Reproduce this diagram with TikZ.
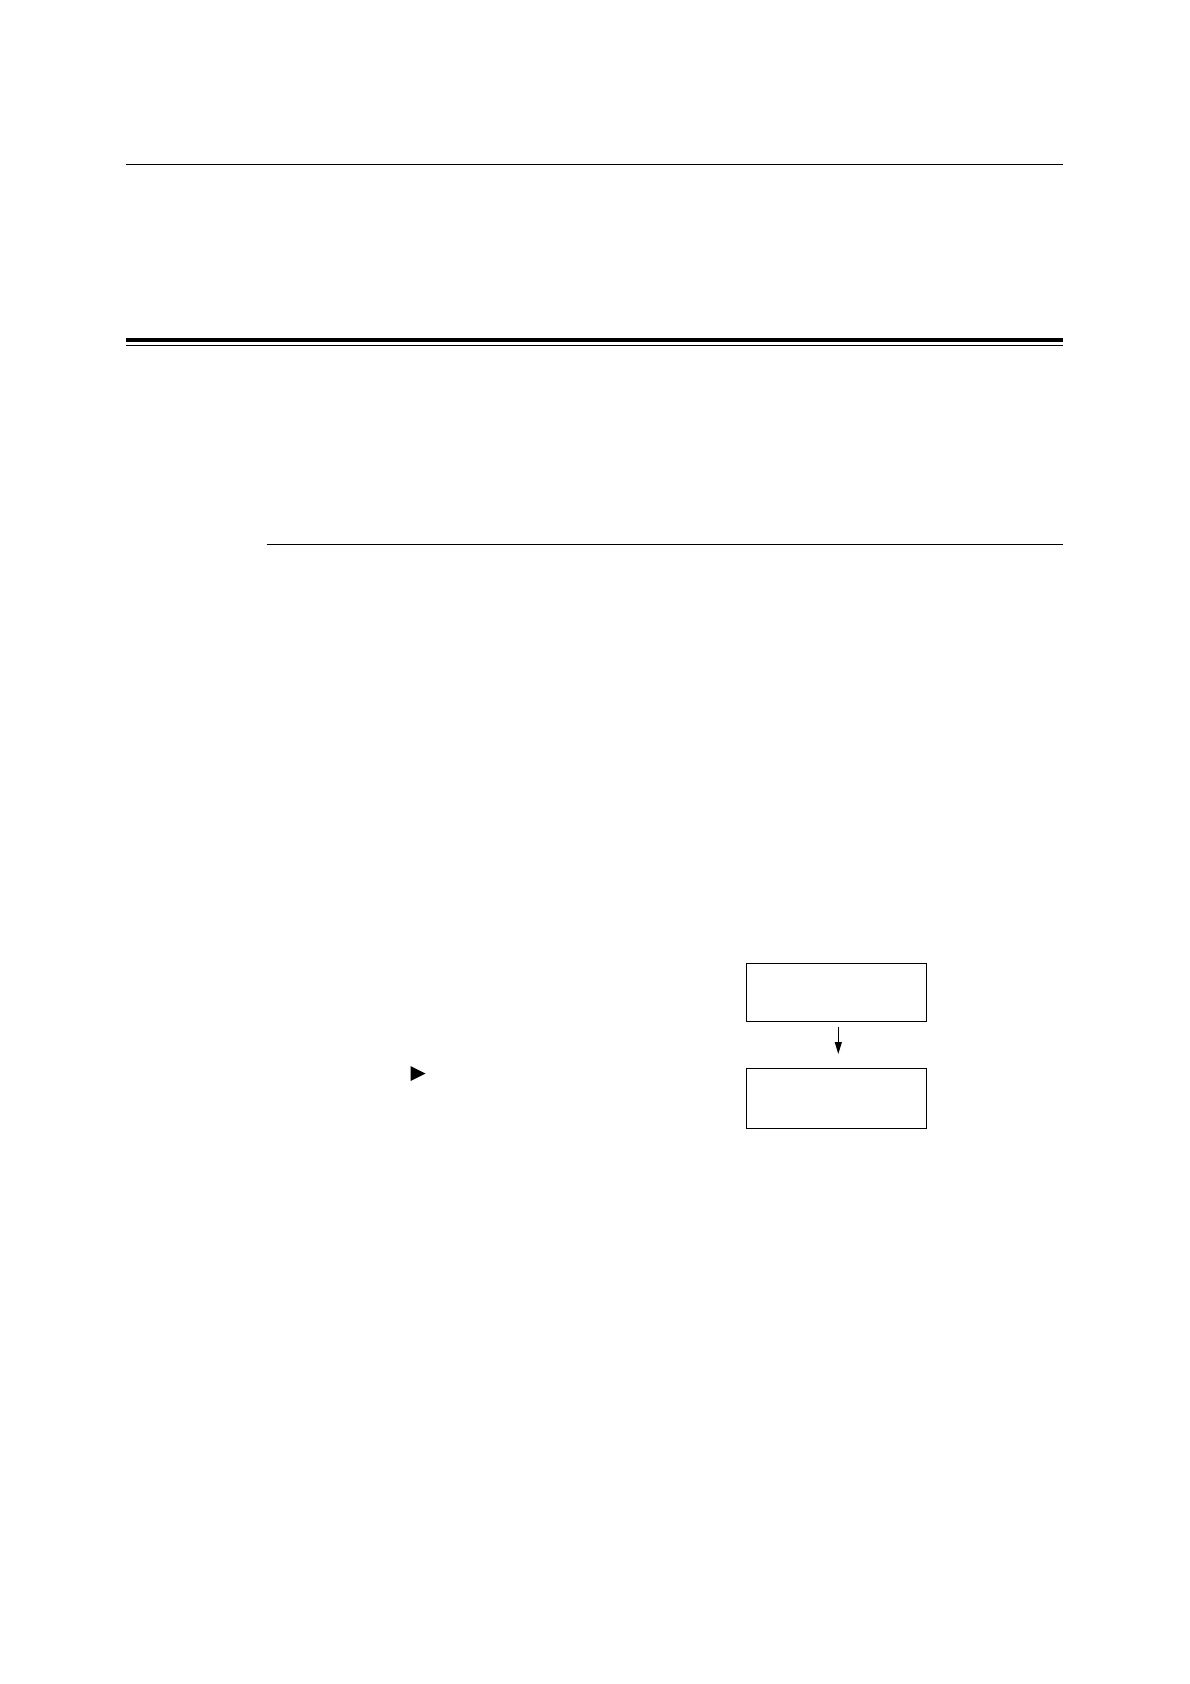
\documentclass[tikz,border=0pt]{standalone}
\usetikzlibrary{arrows.meta}
\begin{document}
\begin{tikzpicture}[x=1pt,y=-1pt,
  rule/.style={line width=1.1pt},
  box/.style={draw,line width=1.1pt,minimum width=180pt,minimum height=58.5pt,inner sep=0pt},
  conn/.style={line width=1.1pt,-{Triangle[length=12pt,width=7pt]}}]
\useasboundingbox[fill=white] (0,0) rectangle (1190,1684);
\draw[rule] (126,164.3) -- (1063,164.3);
\draw[line width=4pt] (126,339.7) -- (1063,339.7);
\draw[rule] (126,345.2) -- (1063,345.2);
\draw[rule] (266.5,544.5) -- (1063,544.5);
\node[box] (b1) at (836.3,992.6) {};
\node[box,minimum height=59.5pt] (b2) at (836.3,1098.3) {};
\coordinate (a1) at (838.3,1026.5);
\coordinate (a2) at (838.3,1054);
\draw[conn] (a1) -- (a2);
\fill (410.5,1066) -- (425.5,1073.5) -- (410.5,1081) -- cycle;
\end{tikzpicture}
\end{document}
